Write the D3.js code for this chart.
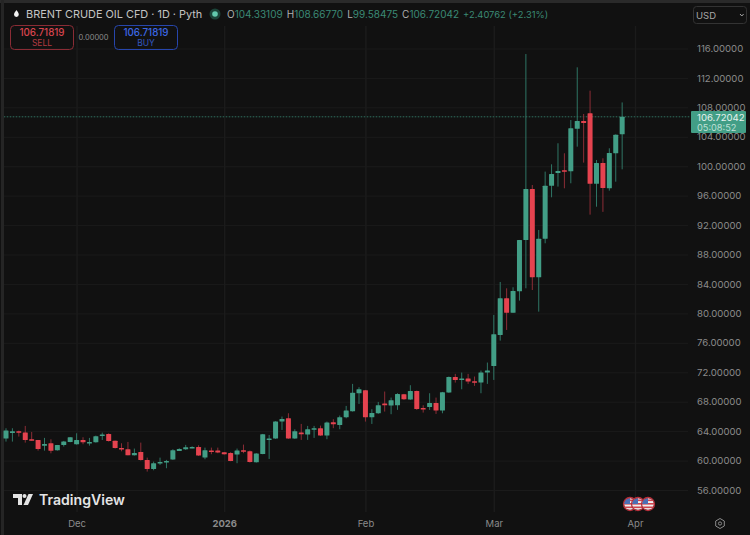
<!DOCTYPE html>
<html lang="en">
<head>
  <meta charset="UTF-8">
  <title>Brent Crude Oil CFD</title>
  <script src="https://d3js.org/d3.v7.min.js"></script>
  <style>
    html, body { margin: 0; padding: 0; background: #111; overflow: hidden; }
    svg { display: block; font-family: Inter, "Noto Sans", sans-serif; }
  </style>
</head>
<body>
  <div id="chart"></div>
  <script>
    // Trading days, plus the two empty days up to the Apr tick
    const days = [
      "2025-11-14", "2025-11-17", "2025-11-18", "2025-11-19", "2025-11-20", "2025-11-21",
      "2025-11-24", "2025-11-25", "2025-11-26", "2025-11-27", "2025-11-28",
      "2025-12-01", "2025-12-02", "2025-12-03", "2025-12-04", "2025-12-05",
      "2025-12-08", "2025-12-09", "2025-12-10", "2025-12-11", "2025-12-12",
      "2025-12-15", "2025-12-16", "2025-12-17", "2025-12-18", "2025-12-19",
      "2025-12-22", "2025-12-23", "2025-12-24", "2025-12-25", "2025-12-26",
      "2025-12-29", "2025-12-30", "2025-12-31", "2026-01-01", "2026-01-02",
      "2026-01-05", "2026-01-06", "2026-01-07", "2026-01-08", "2026-01-09",
      "2026-01-12", "2026-01-13", "2026-01-14", "2026-01-15", "2026-01-16",
      "2026-01-19", "2026-01-20", "2026-01-21", "2026-01-22", "2026-01-23",
      "2026-01-26", "2026-01-27", "2026-01-28", "2026-01-29", "2026-01-30",
      "2026-02-02", "2026-02-03", "2026-02-04", "2026-02-05", "2026-02-06",
      "2026-02-09", "2026-02-10", "2026-02-11", "2026-02-12", "2026-02-13",
      "2026-02-16", "2026-02-17", "2026-02-18", "2026-02-19", "2026-02-20",
      "2026-02-23", "2026-02-24", "2026-02-25", "2026-02-26", "2026-02-27",
      "2026-03-02", "2026-03-03", "2026-03-04", "2026-03-05", "2026-03-06",
      "2026-03-09", "2026-03-10", "2026-03-11", "2026-03-12", "2026-03-13",
      "2026-03-16", "2026-03-17", "2026-03-18", "2026-03-19", "2026-03-20",
      "2026-03-23", "2026-03-24", "2026-03-25", "2026-03-26", "2026-03-27",
      "2026-03-30", "2026-03-31", "2026-04-01"
    ];

    const opens = [
      62.99, 63.76, 63.98, 63.80, 62.90, 62.80, 62.03, 62.35, 61.40, 62.12,
      62.53, 62.22, 62.80, 62.40, 62.49, 63.39, 63.62, 62.71, 61.72, 61.54,
      60.72, 61.17, 60.09, 58.86, 59.63, 59.77, 60.13, 61.31, 61.54, 61.76,
      61.85, 60.40, 61.36, 61.36, 61.13, 61.04, 60.81, 61.40, 61.27, 59.77,
      60.90, 62.81, 62.99, 65.30, 65.75, 62.99, 63.80, 63.53, 64.21, 64.39,
      63.39, 65.21, 64.85, 65.89, 66.71, 69.15, 69.56, 65.89, 66.43, 67.75,
      67.48, 67.52, 69.01, 68.29, 69.47, 67.16, 67.29, 67.84, 66.80, 69.24,
      71.37, 70.96, 71.14, 70.78, 70.60, 71.96, 72.86, 77.07, 82.05, 80.10,
      83.00, 89.98, 96.91, 84.91, 90.16, 97.36, 99.09, 99.45, 99.31, 105.10,
      106.15, 107.19, 97.63, 100.44, 97.00, 101.76, 104.33
    ];
    const highs = [
      64.39, 64.39, 64.07, 64.71, 63.89, 62.80, 63.08, 62.89, 62.12, 62.67,
      63.17, 63.71, 63.17, 63.08, 63.39, 63.80, 63.71, 62.71, 62.35, 62.53,
      61.63, 62.44, 60.40, 59.86, 60.40, 60.09, 61.54, 61.67, 62.13, 61.94,
      62.08, 61.76, 61.76, 61.76, 61.17, 61.13, 61.63, 62.17, 61.36, 61.00,
      63.62, 63.48, 65.34, 65.98, 66.43, 64.25, 64.98, 64.71, 64.71, 64.75,
      65.30, 65.62, 66.12, 67.43, 70.42, 69.97, 69.60, 66.98, 67.97, 69.38,
      68.56, 69.15, 69.06, 70.24, 69.51, 67.52, 69.15, 68.56, 69.33, 71.42,
      71.78, 71.96, 71.78, 71.42, 72.23, 73.32, 79.79, 84.27, 83.41, 83.55,
      89.98, 115.25, 97.45, 91.34, 99.27, 100.26, 103.12, 101.76, 106.28, 113.44,
      107.10, 110.27, 100.85, 101.08, 102.44, 104.33, 108.67
    ];
    const lows = [
      62.58, 62.58, 63.26, 62.44, 62.71, 61.35, 61.35, 60.99, 61.35, 61.90,
      62.49, 62.17, 62.22, 62.03, 62.44, 62.80, 62.58, 61.63, 61.26, 60.72,
      60.68, 60.00, 58.50, 58.68, 59.41, 58.96, 60.09, 61.31, 61.45, 61.67,
      60.63, 60.18, 60.86, 61.00, 60.81, 59.91, 59.64, 61.00, 59.73, 59.73,
      60.86, 60.22, 62.95, 64.16, 62.95, 62.95, 62.81, 62.81, 63.08, 63.35,
      62.90, 64.40, 64.26, 65.75, 66.66, 67.70, 65.30, 64.98, 66.35, 66.66,
      66.30, 66.89, 68.25, 68.25, 66.89, 66.52, 66.89, 66.34, 66.43, 69.20,
      70.60, 69.69, 70.42, 70.15, 69.15, 70.42, 70.96, 76.30, 77.75, 80.10,
      81.74, 83.41, 83.18, 80.24, 89.53, 95.78, 97.23, 97.00, 97.68, 102.66,
      100.49, 93.42, 94.50, 93.80, 96.68, 97.90, 99.58
    ];
    const closes = [
      64.07, 63.98, 63.80, 62.80, 62.80, 61.58, 62.26, 61.35, 62.12, 62.58,
      63.17, 62.80, 62.49, 62.53, 63.30, 63.53, 62.67, 61.72, 61.54, 60.72,
      61.04, 60.09, 58.86, 59.63, 59.81, 59.95, 61.40, 61.58, 61.81, 61.85,
      60.68, 61.40, 61.27, 61.08, 60.86, 59.95, 61.36, 61.31, 59.82, 60.95,
      63.58, 62.99, 65.30, 65.66, 62.99, 63.98, 63.58, 64.25, 64.39, 63.39,
      65.16, 64.94, 65.89, 66.80, 69.20, 69.69, 65.89, 66.48, 67.52, 67.52,
      68.20, 69.06, 68.34, 69.47, 67.02, 67.02, 67.84, 66.80, 69.29, 71.37,
      70.96, 71.14, 70.74, 70.60, 71.96, 72.23, 77.16, 82.05, 80.10, 83.05,
      89.98, 96.91, 84.91, 90.16, 97.36, 98.95, 99.36, 99.36, 105.15, 106.15,
      105.88, 97.63, 100.44, 97.05, 101.80, 104.29, 106.72
    ];

    const priceTicks = [56, 60, 64, 68, 72, 76, 80, 84, 88, 92, 96, 100, 104, 108, 112, 116];
    const timeTicks = ["2025-12-01", "2026-01-01", "2026-02-02", "2026-03-02", "2026-04-01"];
    const timeLabels = ["Dec", "2026", "Feb", "Mar", "Apr"];
    const lastPrice = 106.72042;
    const headerValues = [
      ["O", "104.33109"], ["H", "108.66770"], ["L", "99.58475"], ["C", "106.72042"]
    ];

    const bg = "#111111", up = "#429e86", down = "#e5434f";
    const upWick = "#2f7565", downWick = "#8c2d36";
    const W = 750, H = 535;

    const svg = d3.select("#chart").append("svg").attr("width", W).attr("height", H);
    svg.append("rect").attr("width", W).attr("height", H).attr("fill", bg);
    svg.append("rect").attr("width", W).attr("height", 3).attr("fill", "#2a2a2a");
    svg.append("rect").attr("x", 1).attr("width", 3).attr("height", H).attr("fill", "#252525");

    const x = d3.scalePoint().domain(days).range([6, 635]);
    const y = d3.scaleLinear().domain([56, 116]).range([490, 48.5]);

    // Grid
    svg.append("g")
      .attr("transform", "translate(4,0)")
      .call(d3.axisRight(y).tickValues(priceTicks).tickSize(684).tickFormat(""))
      .call(g => g.select(".domain").remove())
      .call(g => g.selectAll("line").attr("stroke", "#1b1b1b"));
    svg.append("g")
      .attr("transform", "translate(0,512)")
      .call(d3.axisTop(x).tickValues(timeTicks).tickSize(486).tickFormat(""))
      .call(g => g.select(".domain").remove())
      .call(g => g.selectAll("line").attr("stroke", "#1b1b1b").attr("stroke-width", 1.5));

    // Last price line
    svg.append("line")
      .attr("x1", 4).attr("x2", 690)
      .attr("y1", y(lastPrice)).attr("y2", y(lastPrice))
      .attr("stroke", "#1a2e29");
    svg.append("line")
      .attr("x1", 4).attr("x2", 690)
      .attr("y1", y(lastPrice)).attr("y2", y(lastPrice))
      .attr("stroke", "#2f6557").attr("stroke-dasharray", "1 2");

    // Candles
    const candles = closes.map((c, i) => ({
      day: days[i], open: opens[i], high: highs[i], low: lows[i], close: c
    }));
    const bodyWidth = 5;
    const candle = svg.append("g").selectAll("g").data(candles).join("g");
    candle.append("line")
      .attr("x1", d => x(d.day)).attr("x2", d => x(d.day))
      .attr("y1", d => y(d.high)).attr("y2", d => y(d.low))
      .attr("stroke", d => d.close >= d.open ? upWick : downWick);
    candle.append("rect")
      .attr("x", d => x(d.day) - bodyWidth / 2)
      .attr("width", bodyWidth)
      .attr("y", d => y(Math.max(d.open, d.close)))
      .attr("height", d => Math.max(1.5, Math.abs(y(d.open) - y(d.close))))
      .attr("rx", 0.5)
      .attr("fill", d => d.close >= d.open ? up : down);

    // Price axis
    svg.append("g")
      .attr("transform", "translate(688,0)")
      .call(d3.axisRight(y).tickValues(priceTicks).tickSize(0).tickPadding(9).tickFormat(d3.format(".5f")))
      .call(g => g.select(".domain").remove())
      .call(g => g.selectAll("text")
        .attr("fill", "#8b8b8b").style("font-size", "9.6px").style("font-family", "Inter, sans-serif"));

    // Time axis
    svg.append("g")
      .attr("transform", "translate(0,514)")
      .call(d3.axisBottom(x).tickValues(timeTicks).tickSize(0).tickPadding(6)
        .tickFormat(d => timeLabels[timeTicks.indexOf(d)]))
      .call(g => g.select(".domain").remove())
      .call(g => g.selectAll("text")
        .attr("fill", "#8b8b8b").style("font-size", "9.5px").style("font-family", "Inter, sans-serif")
        .style("font-weight", d => d === "2026-01-01" ? 700 : 400));

    // Last price badge
    const badge = svg.append("g").attr("transform", "translate(691,111)");
    badge.append("rect").attr("width", 55).attr("height", 22).attr("rx", 1).attr("fill", "#429e86");
    badge.append("text").attr("x", 6).attr("y", 9.5).attr("fill", "#e6f2ee")
      .style("font-size", "9.6px").text(d3.format(".5f")(lastPrice));
    badge.append("text").attr("x", 6).attr("y", 19.5).attr("fill", "#bfe0d6")
      .style("font-size", "9.2px").text("05:08:52");

    // Header
    svg.append("path")
      .attr("d", "M16.5 10 C17.2 11.5 18.8 12.6 18.8 14.5 A2.4 2.4 0 0 1 14 14.5 C14 12.6 15.8 11.5 16.5 10 Z")
      .attr("fill", "#f2f2f2");
    svg.append("text").attr("x", 26).attr("y", 18).attr("fill", "#c4c4c4")
      .style("font-size", "10.9px").text("BRENT CRUDE OIL CFD · 1D · Pyth");
    svg.append("circle").attr("cx", 215).attr("cy", 14).attr("r", 5.5).attr("fill", "#1c4439");
    svg.append("circle").attr("cx", 215).attr("cy", 14).attr("r", 2.8).attr("fill", "#62c9ad");

    const ohlc = svg.append("text").attr("x", 227).attr("y", 18).style("font-size", "10px");
    headerValues.forEach(([k, v]) => {
      ohlc.append("tspan").attr("fill", "#b0b0b0").attr("dx", k === "O" ? 0 : 4).text(k);
      ohlc.append("tspan").attr("fill", "#3b8a75").text(v);
    });
    ohlc.append("tspan").attr("fill", "#3b8a75").attr("dx", 4)
      .style("font-size", "9.4px").text("+2.40762 (+2.31%)");

    // Sell / buy buttons
    function tradeButton(left, stroke, fill, label) {
      const g = svg.append("g").attr("transform", `translate(${left},25)`);
      g.append("rect").attr("x", 0.5).attr("y", 0.5).attr("width", 63).attr("height", 24)
        .attr("rx", 4).attr("fill", "none").attr("stroke", stroke);
      g.append("text").attr("x", 32).attr("y", 10.5).attr("text-anchor", "middle").attr("fill", fill)
        .style("font-size", "9.8px").style("font-weight", 500).text("106.71819");
      g.append("text").attr("x", 32).attr("y", 21).attr("text-anchor", "middle").attr("fill", fill)
        .attr("opacity", 0.8).style("font-size", "8.5px").text(label);
    }
    tradeButton(10, "#8a2c35", "#d8444e", "SELL");
    tradeButton(114, "#2746ad", "#3c68e4", "BUY");
    svg.append("text").attr("x", 93.5).attr("y", 40).attr("text-anchor", "middle").attr("fill", "#8b8b8b")
      .style("font-size", "7.5px").text("0.00000");

    // Currency dropdown
    svg.append("rect").attr("x", 693.5).attr("y", 6.5).attr("width", 53).attr("height", 17)
      .attr("rx", 3).attr("fill", "none").attr("stroke", "#333");
    svg.append("text").attr("x", 696).attr("y", 18.5).attr("fill", "#a8a8a8")
      .style("font-size", "9.5px").text("USD");
    svg.append("path").attr("d", "M740 14 L741.8 16 L743.6 14").attr("fill", "none")
      .attr("stroke", "#a8a8a8");

    // TradingView logo
    const logo = svg.append("g").attr("fill", "#e4e4e4");
    logo.append("path").attr("d", "M13 494 H22 V505 H18 V498 H13 Z");
    logo.append("circle").attr("cx", 24.5).attr("cy", 496).attr("r", 2);
    logo.append("path").attr("d", "M28.5 494 H33 L28 505 H23.5 Z");
    logo.append("text").attr("x", 39).attr("y", 504.5)
      .style("font-size", "14.1px").style("font-weight", 600).text("TradingView");

    // Event flags
    const defs = svg.append("defs");
    [630, 638, 648].forEach((cx, i) => {
      defs.append("clipPath").attr("id", "flag" + i)
        .append("circle").attr("cx", cx).attr("cy", 504).attr("r", 6);
      const f = svg.append("g");
      const inner = f.append("g").attr("clip-path", `url(#flag${i})`);
      inner.append("rect").attr("x", cx - 6).attr("y", 498).attr("width", 12).attr("height", 12).attr("fill", "#eee");
      [499.5, 503, 506.5].forEach(s => inner.append("rect")
        .attr("x", cx - 6).attr("y", s).attr("width", 12).attr("height", 1.6).attr("fill", "#d0444c"));
      inner.append("rect").attr("x", cx - 6).attr("y", 498).attr("width", 6).attr("height", 6).attr("fill", "#4a6fb5");
      f.append("circle").attr("cx", cx).attr("cy", 504).attr("r", 6.5)
        .attr("fill", "none").attr("stroke", "#b52f3a").attr("stroke-width", 1.3);
    });

    // Settings icon
    svg.append("path").attr("d", "M720 518.5 L724.3 521 V526 L720 528.5 L715.7 526 V521 Z")
      .attr("fill", "none").attr("stroke", "#8b8b8b");
    svg.append("circle").attr("cx", 720).attr("cy", 523.5).attr("r", 1.6)
      .attr("fill", "none").attr("stroke", "#8b8b8b");
  </script>
</body>
</html>
